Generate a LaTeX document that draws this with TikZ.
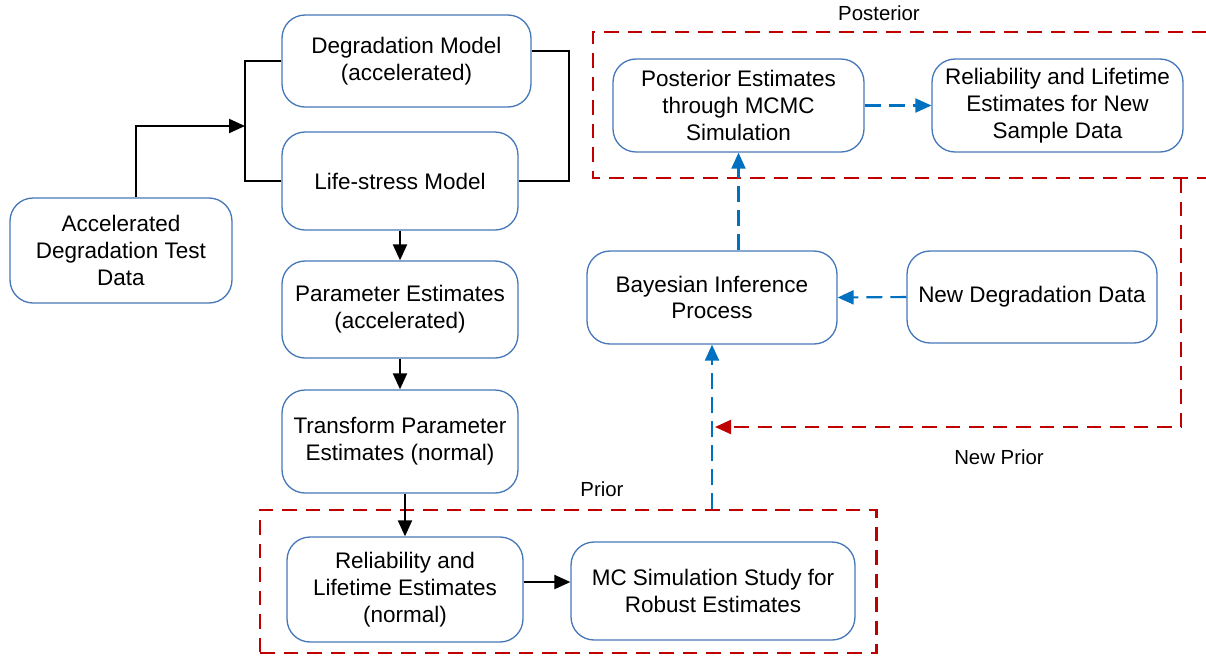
\documentclass[tikz,border=0pt]{standalone}
\usepackage{fontspec}
\setmainfont{Liberation Sans}
\usetikzlibrary{positioning, arrows.meta, calc}
\definecolor{boxcol}{RGB}{70,120,185}
\definecolor{flowblue}{RGB}{0,112,192}
\definecolor{groupred}{RGB}{192,0,0}
\newcommand{\boxfont}{\fontsize{12.8}{15.2}\selectfont}
\newcommand{\tagfont}{\fontsize{11.6}{14}\selectfont}

\begin{document}
\begin{tikzpicture}[
  x=0.02cm, y=-0.02cm,
  font=\boxfont,
  stage/.style={draw=boxcol, line width=0.75pt, rounded corners=0.46cm,
                align=center, inner sep=2pt},
  link/.style={line width=1.2pt},
  flow/.style={link, -{Triangle[length=0.32cm, width=0.28cm]}},
  blueflow/.style={flow, flowblue, dash pattern=on 0.32cm off 0.16cm},
  group/.style={draw=groupred, line width=1.2pt, dash pattern=on 0.29cm off 0.18cm},
  redflow/.style={group, -{Triangle[length=0.32cm, width=0.28cm]}, groupred},
  tag/.style={font=\tagfont},
]
\useasboundingbox (0,0) rectangle (1206,657);

% --- Accelerated branch ---
\node[stage, minimum width=4.44cm, minimum height=2.1cm] (ADT) at (121,250.5)
  {Accelerated\\Degradation Test\\Data};
\node[stage, minimum width=4.98cm, minimum height=1.84cm] (DM) at (406.5,61)
  {Degradation Model\\(accelerated)};
\node[stage, minimum width=4.72cm, minimum height=1.96cm] (LS) at (400,181)
  {Life-stress Model};
\node[stage, minimum width=4.72cm, minimum height=1.94cm] (PE) at (400,309.5)
  {Parameter Estimates\\(accelerated)};
\node[stage, minimum width=4.72cm, minimum height=2.06cm] (TPE) at (400,441.5)
  {Transform Parameter\\Estimates (normal)};

% --- Prior group ---
\node[stage, minimum width=4.72cm, minimum height=2.1cm] (RLE) at (405,589.5)
  {Reliability and\\Lifetime Estimates\\(normal)};
\node[stage, minimum width=5.68cm, minimum height=1.96cm] (MC) at (713,591)
  {MC Simulation Study for\\Robust Estimates};
\node[group, minimum width=12.33cm, minimum height=2.86cm] (prior) at (568.25,581.5) {};
\node[tag] (priorTag) at (602,489) {Prior};

% --- Bayesian update ---
\node[stage, minimum width=5cm, minimum height=1.86cm] (BI) at (712,297.5)
  {Bayesian Inference\\Process};
\node[stage, minimum width=5cm, minimum height=1.84cm] (NDD) at (1032,297)
  {New Degradation Data};

% --- Posterior group ---
\node[stage, minimum width=5.02cm, minimum height=1.86cm] (PEM) at (738.5,105.5)
  {Posterior Estimates\\through MCMC\\Simulation};
\node[stage, minimum width=5.02cm, minimum height=1.86cm] (RLN) at (1057.5,105.5)
  {Reliability and Lifetime\\Estimates for New\\Sample Data};
\coordinate (postNW) at (593,32);
\coordinate (postSE) at (1206,178);
\draw[group] (postSE |- postNW) -- (postNW) |- (postSE);
\node[tag] (postTag) at (879,13) {Posterior};

% --- Connectors ---
\coordinate (leftJoin) at (245,126);
\draw[flow] ([xshift=0.3cm]ADT.north) |- (leftJoin);
\draw[link] (DM.west) -| (leftJoin) |- (LS.west);
\draw[link] ([yshift=0.2cm]DM.east) -- ++(37,0) |- (LS.east);
\draw[flow] (LS) -- (PE);
\draw[flow] (PE) -- (TPE);
\draw[flow] (RLE.north |- TPE.south) -- (RLE.north);
\draw[flow] ([yshift=0.15cm]RLE.east) -- ([yshift=0.15cm]RLE.east -| MC.west);

\draw[blueflow] (prior.north -| BI.south) -- (BI.south);
\draw[blueflow] (NDD.west) -- (BI.east);
\draw[blueflow] (BI.north -| PEM.south) -- (PEM.south);
\draw[blueflow] (PEM) -- (RLN);

% --- New prior feedback ---
\coordinate (npTop) at (1181,178);
\coordinate (npEnd) at (715,427);
\draw[redflow] (npTop) |- (npEnd);
\node[tag] (npTag) at (999,457) {New Prior};
\end{tikzpicture}
\end{document}
